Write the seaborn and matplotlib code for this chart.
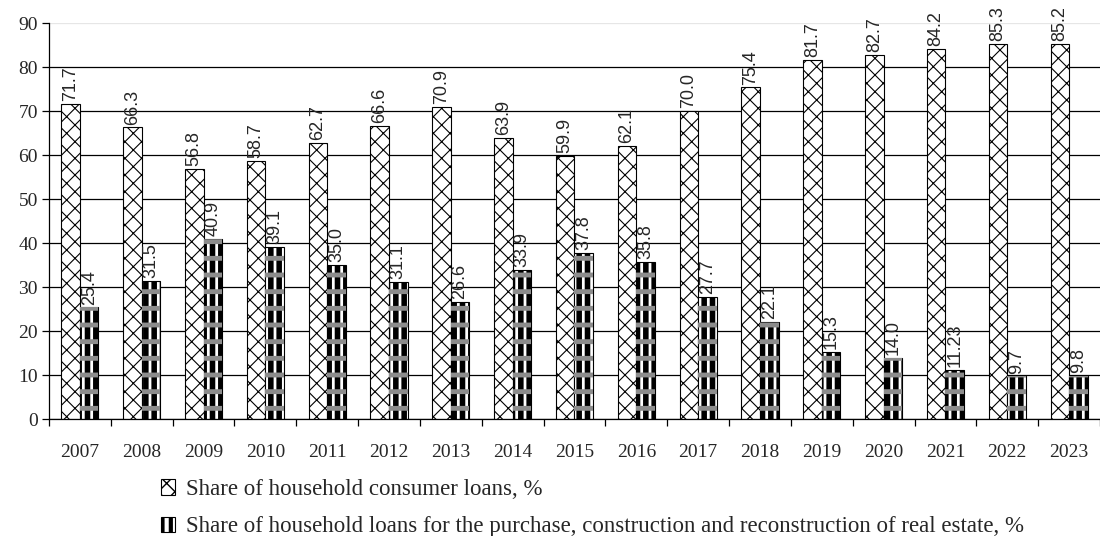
import matplotlib
matplotlib.use("Agg")
import matplotlib.pyplot as plt
import seaborn as sns
import pandas as pd
from matplotlib.patches import Patch

years = [str(y) for y in range(2007, 2024)]
consumer = [71.7, 66.3, 56.8, 58.7, 62.7, 66.6, 70.9, 63.9, 59.9, 62.1, 70.0, 75.4, 81.7, 82.7, 84.2, 85.3, 85.2]
mortgage = [25.4, 31.5, 40.9, 39.1, 35.0, 31.1, 26.6, 33.9, 37.8, 35.8, 27.7, 22.1, 15.3, 14.0, 11.23, 9.7, 9.8]
consumer_labels = ["71.7", "66.3", "56.8", "58.7", "62.7", "66.6", "70.9", "63.9", "59.9", "62.1", "70.0", "75.4", "81.7", "82.7", "84.2", "85.3", "85.2"]
mortgage_labels = ["25.4", "31.5", "40.9", "39.1", "35.0", "31.1", "26.6", "33.9", "37.8", "35.8", "27.7", "22.1", "15.3", "14.0", "11.23", "9.7", "9.8"]
series_names = ["Share of household consumer loans, %",
                "Share of household loans for the purchase, construction and reconstruction of real estate, %"]

sns.set_theme(style="white")
plt.rcParams['font.family'] = ['Liberation Serif', 'DejaVu Serif']
plt.rcParams['hatch.color'] = 'black'

df = pd.DataFrame({
    "year": years * 2,
    "value": consumer + mortgage,
    "series": [series_names[0]] * len(years) + [series_names[1]] * len(years),
})

fig = plt.figure(figsize=(11, 5.36), dpi=100)
ax = fig.add_axes([0.0445, 0.218, 0.9555, 0.739])


def set_hlw(p, lw):
    try:
        p.set_hatch_linewidth(lw)
    except Exception:
        pass


# base layer
sns.barplot(data=df, x="year", y="value", hue="series", hue_order=series_names,
            order=years, palette=["white", "white"], width=0.6, saturation=1,
            edgecolor="black", linewidth=0.8, legend=False, ax=ax)
base = list(ax.containers)
for p in base[0]:
    p.set_hatch("xx")
    p.set_edgecolor("black")
    set_hlw(p, 0.8)
for p in base[1]:
    p.set_hatch("||")
    p.set_edgecolor("black")
    set_hlw(p, 4.0)

# overlay layer: grey checker bands on the real-estate bars
sns.barplot(data=df, x="year", y="value", hue="series", hue_order=series_names,
            order=years, palette=["white", "white"], width=0.6, saturation=1,
            linewidth=0, legend=False, ax=ax)
over = list(ax.containers)[2:]
for p in over[0]:
    p.set_visible(False)
for p in over[1]:
    p.set_facecolor("none")
    p.set_edgecolor("#8c8c8c")
    p.set_linewidth(0)
    p.set_hatch("-")
    set_hlw(p, 3.5)

for cont, labs in zip(base, [consumer_labels, mortgage_labels]):
    ax.bar_label(cont, labels=labs, rotation=90, padding=2, fontsize=13,
                 family=['Liberation Sans', 'DejaVu Sans'])

ax.set_ylim(0, 90)
ax.set_yticks(range(0, 91, 10))
ax.set_xlim(-0.5, len(years) - 0.5)
ax.set_xlabel("")
ax.set_ylabel("")
ax.set_axisbelow(True)
ax.yaxis.grid(True, color="black", linewidth=0.9)
gl = ax.yaxis.get_gridlines()
gl[-1].set_color("#e6e6e6")
ax.xaxis.grid(False)

for s in ["top", "right"]:
    ax.spines[s].set_visible(False)
for s in ["left", "bottom"]:
    ax.spines[s].set_color("black")
    ax.spines[s].set_linewidth(0.9)

ax.tick_params(axis="y", left=True, length=5, width=0.9, color="black", labelsize=14, pad=3)
ax.set_xticks(range(len(years)))
ax.set_xticklabels(years)
ax.set_xticks([i - 0.5 for i in range(len(years) + 1)], minor=True)
ax.tick_params(axis="x", which="major", bottom=False, labelsize=14, pad=12)
ax.tick_params(axis="x", which="minor", bottom=True, length=5, width=0.9, color="black")

h0 = Patch(facecolor="white", edgecolor="black", hatch="xx", linewidth=0.8)
h1 = Patch(facecolor="black", edgecolor="black", hatch="", linewidth=0.8)
leg = fig.legend([h0, h1], series_names, loc="upper left", bbox_to_anchor=(0.146, 0.106),
                 bbox_transform=fig.transFigure, frameon=False, fontsize=16.5,
                 handlelength=0.65, handleheight=0.65, handletextpad=0.45, labelspacing=0.7,
                 borderaxespad=0, borderpad=0)
lh = leg.legend_handles[1]
lh.set_facecolor("white")
lh.set_hatch("||")
set_hlw(lh, 3.0)

fig.savefig("out.png", dpi=100)
